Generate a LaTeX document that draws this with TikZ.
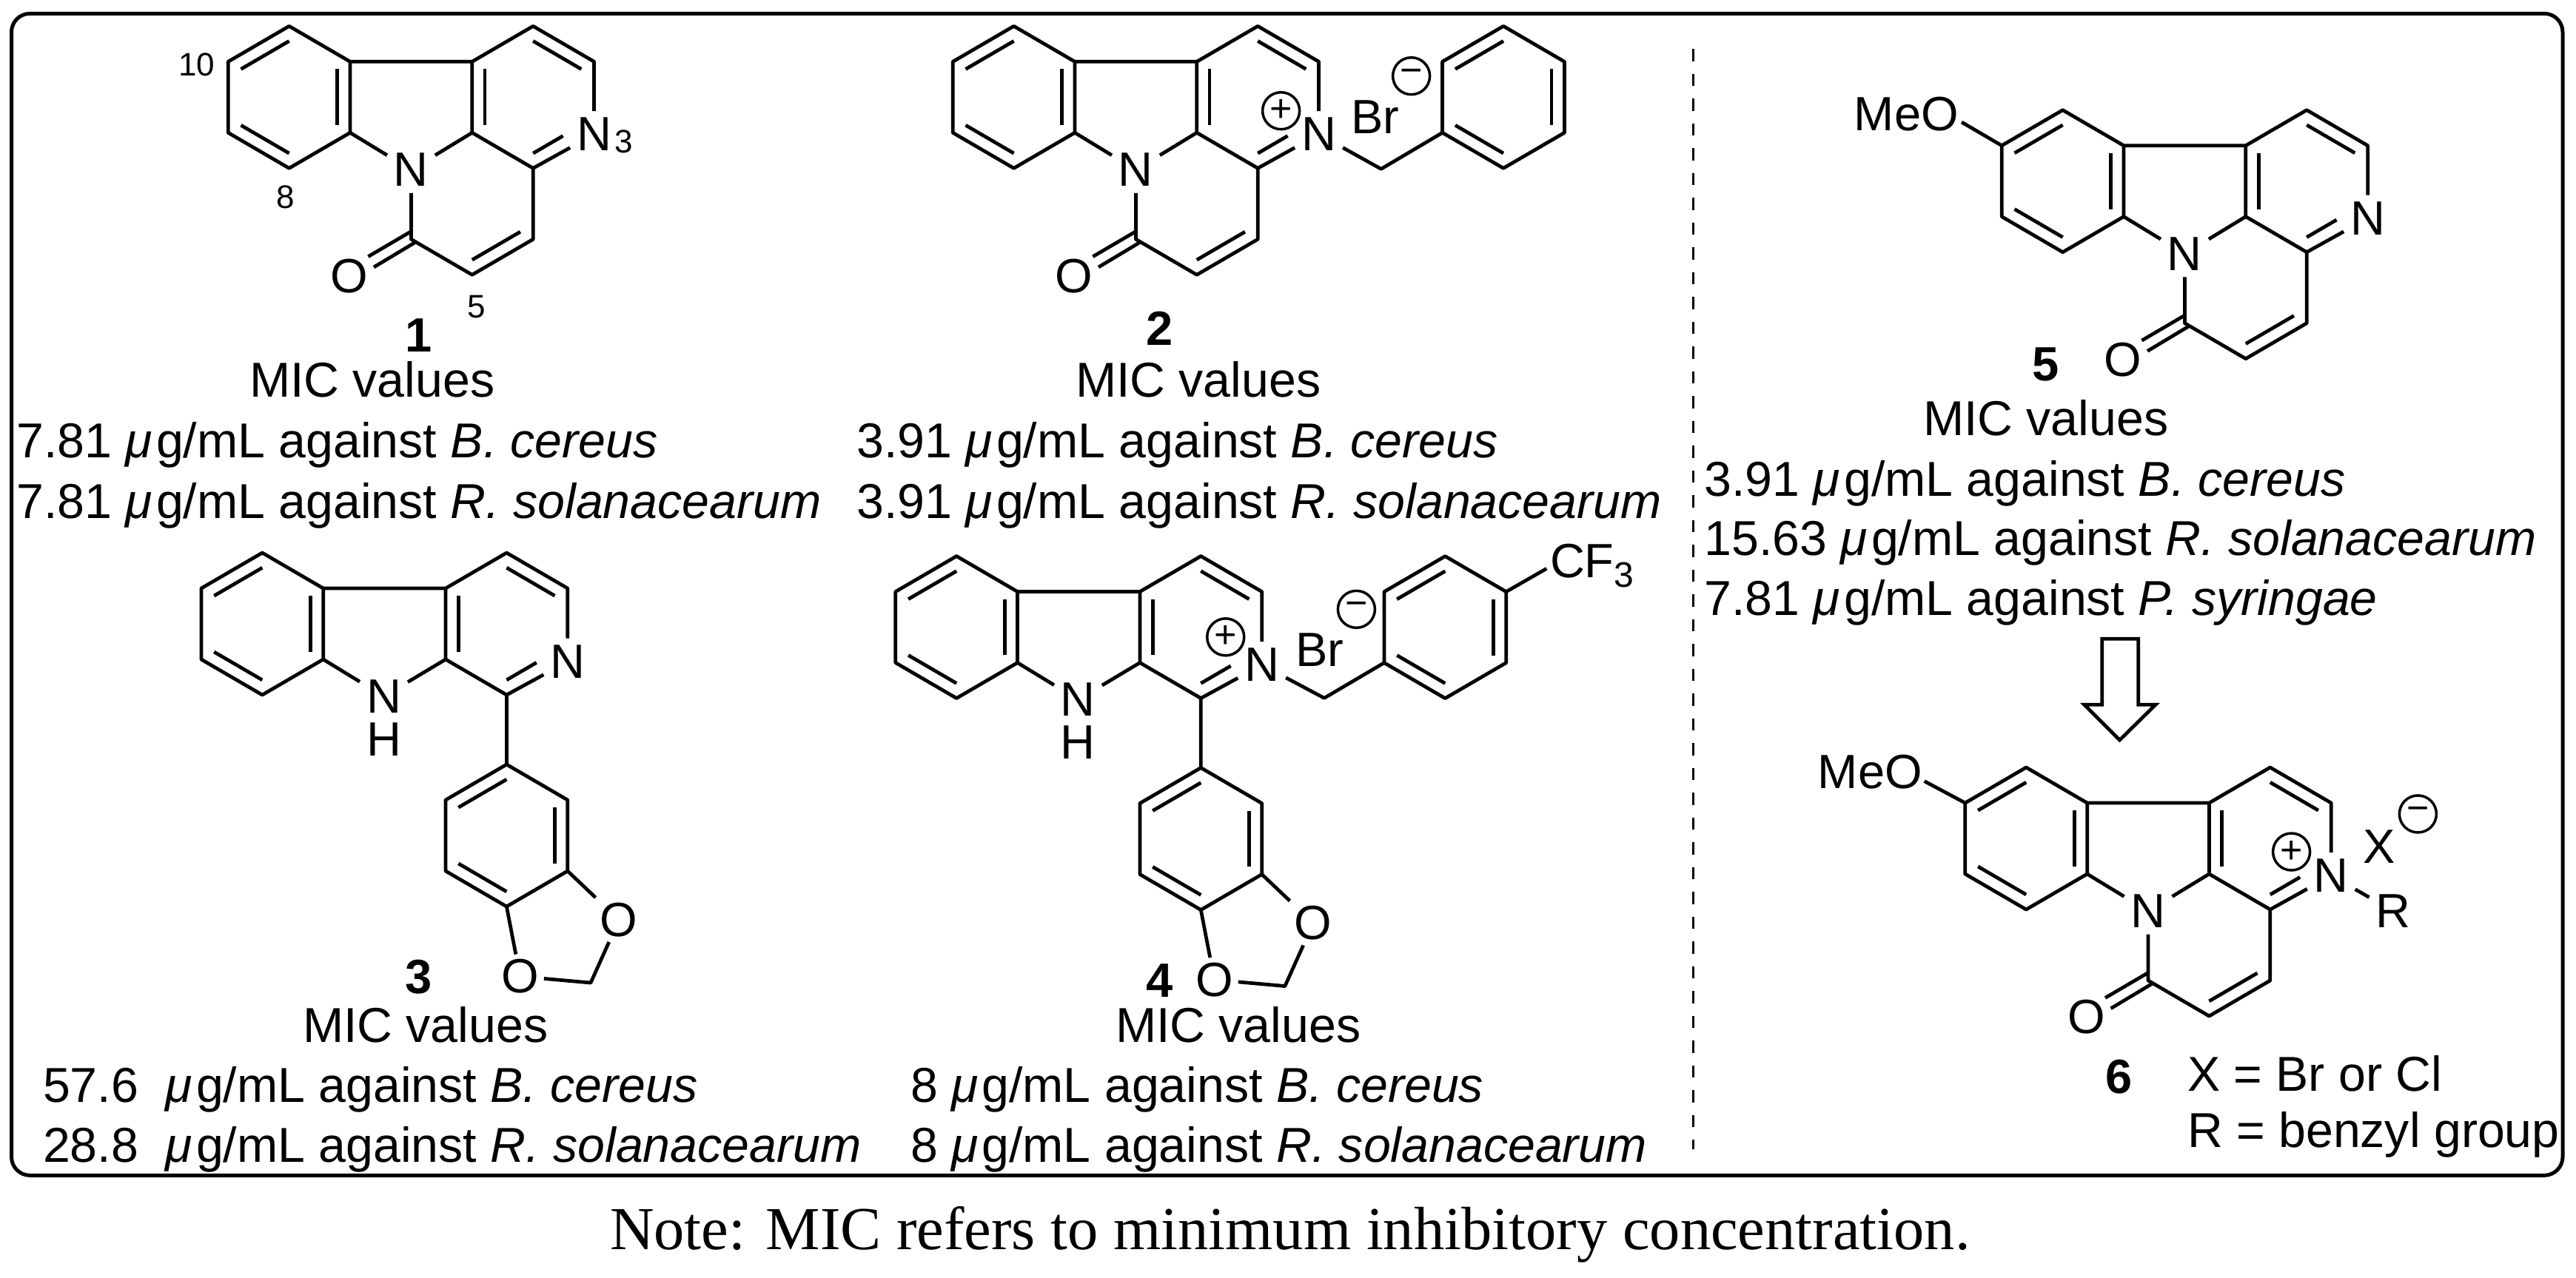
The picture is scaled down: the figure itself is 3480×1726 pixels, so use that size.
\documentclass[tikz,border=0pt]{standalone}
\usepackage{fontspec}
\setmainfont{Liberation Sans}
\newfontfamily\notefont{Liberation Serif}
\usetikzlibrary{calc}
\newcommand{\atomfont}{\fontsize{13}{15}\selectfont}
\newcommand{\bodyfont}{\fontsize{13.25}{15}\selectfont}
\newcommand{\numfont}{\fontsize{8.8}{10}\selectfont}
\tikzset{
  bond/.style={line width=.95pt,line join=round},
  atom/.style={inner sep=1.6pt,font=\atomfont},
  atomtight/.style={inner sep=1.2pt,font=\atomfont},
  plainatom/.style={inner sep=0pt,anchor=base,font=\atomfont},
  locant/.style={inner sep=0pt,font=\numfont},
  cmpd/.style={inner sep=0pt,anchor=base,font=\atomfont\bfseries},
  txt/.style={inner sep=0pt,anchor=base west,font=\bodyfont},
  charge/.style={circle,draw,line width=.7pt,minimum size=10pt,inner sep=0pt,font=\fontsize{10.4}{10.4}\selectfont},
  frameline/.style={line width=1pt,rounded corners=5pt},
  divider/.style={line width=.6pt,dash pattern=on 3.3pt off 3.4pt},
  bigarrow/.style={line width=.95pt,line join=miter},
}
\newcommand{\mug}{{\itshape μ}\kern1pt g/mL}
% ring: name, centre x, centre y
\newcommand{\hexat}[3]{%
  \coordinate (#1o) at (#2,#3);
  \coordinate (#1a) at (#2,#3-96);
  \coordinate (#1b) at (#2+82.4,#3-48);
  \coordinate (#1c) at (#2+82.4,#3+48);
  \coordinate (#1d) at (#2,#3+96);
  \coordinate (#1e) at (#2-82.4,#3+48);
  \coordinate (#1f) at (#2-82.4,#3-48);
}
\newcommand{\dbl}[4][1]{%
  \coordinate (dbA) at ($(#2)!.21!(#4)$);
  \coordinate (dbB) at ($(#3)!.21!(#4)$);
  \draw[bond] (dbA) -- ($(dbA)!#1!(dbB)$);
}
\newcommand{\hexdraw}[1]{%
  \draw[bond] (#1a)--(#1b)--(#1c)--(#1d)--(#1e)--(#1f)--cycle;
}
\newcommand{\tricyc}{%
  \hexat{A}{390.6}{131.3}
  \hexat{B}{720.2}{131.3}
  \coordinate (Co) at (637.8,275.3);
  \coordinate (Cc) at (720.2,323.3);
  \coordinate (Cd) at (637.8,371.3);
  \coordinate (Ce) at (555.4,323.3);
  \node[atom] (Nr) at (555.4,229.5) {N};
  \node[atom] (Nq) at (802.6,181.5) {N};
  \node[atom] (Oa) at (472,372.7) {O};
  \coordinate (Ou) at (555.4,312.7);
  \coordinate (Ov) at (497.4,346.7);
  \coordinate (Ow) at (561.2,327.3);
  \coordinate (Ox) at (505,361);
  \hexdraw{A}
  \draw[bond] (Ab)--(Bf)--(Ba)--(Bb)--(Nq);
  \draw[bond] (Bf)--(Be)--(Bd)--(Cc)--(Cd)--(Ce)--(Nr);
  \draw[bond] (Nq)--(Bd);
  \draw[bond] (Ac)--(Nr);
  \draw[bond] (Nr)--(Be);
  \draw[bond] (Ou)--(Ov);
  \draw[bond] (Ow)--(Ox);
  \dbl{Af}{Aa}{Ao}\dbl{Ae}{Ad}{Ao}\dbl{Ab}{Ac}{Ao}
  \dbl{Bf}{Be}{Bo}\dbl{Ba}{Bb}{Bo}\dbl[.62]{Bd}{Bc}{Bo}
  \dbl{Cc}{Cd}{Co}
}
\newcommand{\bcarb}{%
  \hexat{A}{354.3}{843}
  \hexat{B}{684.4}{843}
  \hexat{D}{684.4}{1129}
  \node[atom] (Nr) at (518.5,941) {N};
  \node[plainatom] (Hh) at (518.5,1021) {H};
  \node[atom] (Nq) at (766.8,894) {N};
  \node[atomtight] (Op) at (836.2,1242.9) {O};
  \node[atomtight] (Oq) at (702.6,1319.5) {O};
  \coordinate (Cm) at (798,1328);
  \hexdraw{A}
  \hexdraw{D}
  \draw[bond] (Ab)--(Bf)--(Ba)--(Bb)--(Nq);
  \draw[bond] (Bf)--(Be)--(Bd)--(Da);
  \draw[bond] (Nq)--(Bd);
  \draw[bond] (Ac)--(Nr);
  \draw[bond] (Nr)--(Be);
  \draw[bond] (Dc)--(Op);
  \draw[bond] (Dd)--(Oq);
  \draw[bond] (Op)--(Cm)--(Oq);
  \dbl{Af}{Aa}{Ao}\dbl{Ae}{Ad}{Ao}\dbl{Ab}{Ac}{Ao}
  \dbl{Bf}{Be}{Bo}\dbl{Ba}{Bb}{Bo}\dbl[.62]{Bd}{Bc}{Bo}
  \dbl{Df}{Da}{Do}\dbl{Db}{Dc}{Do}\dbl{De}{Dd}{Do}
}
\begin{document}
\begin{tikzpicture}[x=.2pt,y=-.2pt]
\useasboundingbox (0,0) rectangle (3480,1726);
\fill[white] (0,0) rectangle (3480,1726);
% frame and divider
\draw[frameline] (15.5,18.3) rectangle (3462,1588.3);
\coordinate (dtop) at (2287.5,66);
\coordinate (dbot) at (2287.5,1553);
\draw[divider] (dtop) -- (dbot);

% compound 1
\begin{scope}[name prefix=m1-]
  \tricyc
  \node[locant] (l10) at (266,87) {10};
  \node[locant] (l8) at (386.2,266.7) {8};
  \node[locant] (l5) at (643.9,414.3) {5};
  \node[locant] (l3) at (843,191) {3};
\end{scope}
\node[cmpd] (c1) at (566,475) {1};
\node[txt] (t1a) at (336,536.7) {MIC values};
\node[txt] (t1b) at (21.5,618.3) {7.81 \mug{} against \textit{B. cereus}};
\node[txt] (t1c) at (21.5,700) {7.81 \mug{} against \textit{R. solanacearum}};

% compound 2
\begin{scope}[shift={(979,0)},name prefix=m2-]
  \tricyc
\end{scope}
\hexat{e2}{2031}{131.3}
\coordinate (cm2) at (1865.8,228.3);
\hexdraw{e2}
\draw[bond] (m2-Nq)--(cm2)--(e2e);
\dbl{e2f}{e2a}{e2o}\dbl{e2b}{e2c}{e2o}\dbl{e2e}{e2d}{e2o}
\node[charge] (p2) at (1730.6,149.7) {+};
\node[plainatom] (br2) at (1858,180) {Br};
\node[charge] (q2) at (1906.6,102.7) {−};
\node[cmpd] (c2) at (1566.7,466) {2};
\node[txt] (t2a) at (1452,536.7) {MIC values};
\node[txt] (t2b) at (1156.5,618.3) {3.91 \mug{} against \textit{B. cereus}};
\node[txt] (t2c) at (1156.5,700) {3.91 \mug{} against \textit{R. solanacearum}};

% compound 3
\begin{scope}[name prefix=m3-]
  \bcarb
\end{scope}
\node[cmpd] (c3) at (565.8,1342) {3};
\node[txt] (t3a) at (408,1408.3) {MIC values};
\node[txt] (t3b) at (57,1489) {57.6\ \ \mug{} against \textit{B. cereus}};
\node[txt] (t3c) at (57,1570.7) {28.8\ \ \mug{} against \textit{R. solanacearum}};

% compound 4
\begin{scope}[shift={(937.9,4.5)},name prefix=m4-]
  \bcarb
\end{scope}
\hexat{e4}{1952.3}{847.6}
\coordinate (cm4) at (1789,943.3);
\coordinate (cf4) at (2089.3,768.3);
\hexdraw{e4}
\draw[bond] (m4-Nq)--(cm4)--(e4e);
\draw[bond] (e4b)--(cf4);
\dbl{e4f}{e4a}{e4o}\dbl{e4b}{e4c}{e4o}\dbl{e4e}{e4d}{e4o}
\node[charge] (p4) at (1655.7,860.8) {+};
\node[plainatom] (br4) at (1783,900) {Br};
\node[charge] (q4) at (1832.4,823.3) {−};
\node[inner sep=0pt,anchor=base west,font=\atomfont] (cf3) at (2093,780) {CF\raisebox{-2.6pt}{\fontsize{9.6}{10}\selectfont 3}};
\node[cmpd] (c4) at (1567,1347) {4};
\node[txt] (t4a) at (1506,1408.3) {MIC values};
\node[txt] (t4b) at (1229,1489) {8 \mug{} against \textit{B. cereus}};
\node[txt] (t4c) at (1229,1570.7) {8 \mug{} against \textit{R. solanacearum}};

% compound 5
\begin{scope}[shift={(2396,113.4)},name prefix=m5-]
  \tricyc
\end{scope}
\node[plainatom] (meo5) at (2575.4,176) {MeO};
\coordinate (oe5) at (2650,165);
\draw[bond] (oe5)--(m5-Af);
\node[cmpd] (c5) at (2763.5,514) {5};
\node[txt] (t5a) at (2597,588.3) {MIC values};
\node[txt] (t5b) at (2301.5,670) {3.91 \mug{} against \textit{B. cereus}};
\node[txt] (t5c) at (2301.5,750.7) {15.63 \mug{} against \textit{R. solanacearum}};
\node[txt] (t5d) at (2301.5,831.7) {7.81 \mug{} against \textit{P. syringae}};

% block arrow
\draw[bigarrow] (2839.8,863.3)--(2888.8,863.3)--(2888.8,952.3)--(2912,952.3)--(2863.5,1000)--(2815.7,952.3)--(2839.8,952.3)--cycle;

% compound 6
\begin{scope}[shift={(2346.6,1001.7)},name prefix=m6-]
  \tricyc
\end{scope}
\node[plainatom] (meo6) at (2526.3,1065.6) {MeO};
\coordinate (oe6) at (2599.7,1055.6);
\draw[bond] (oe6)--(m6-Af);
\node[charge] (p6) at (3095.6,1151) {+};
\node[plainatom] (x6) at (3214.4,1166) {X};
\node[charge] (q6) at (3266.4,1099.9) {−};
\node[atom] (r6) at (3233,1231) {R};
\draw[bond] (m6-Nq)--(r6);
\node[cmpd] (c6) at (2862.8,1477.6) {6};
\node[txt] (t6a) at (2954,1474) {X = Br or Cl};
\node[txt] (t6b) at (2954,1550.7) {R = benzyl group};

% note
\node[inner sep=0pt,anchor=base west,font=\notefont\fontsize{16.5}{18}\selectfont] (note) at (823,1688) {Note: MIC refers to minimum inhibitory concentration.};
\end{tikzpicture}
\end{document}
